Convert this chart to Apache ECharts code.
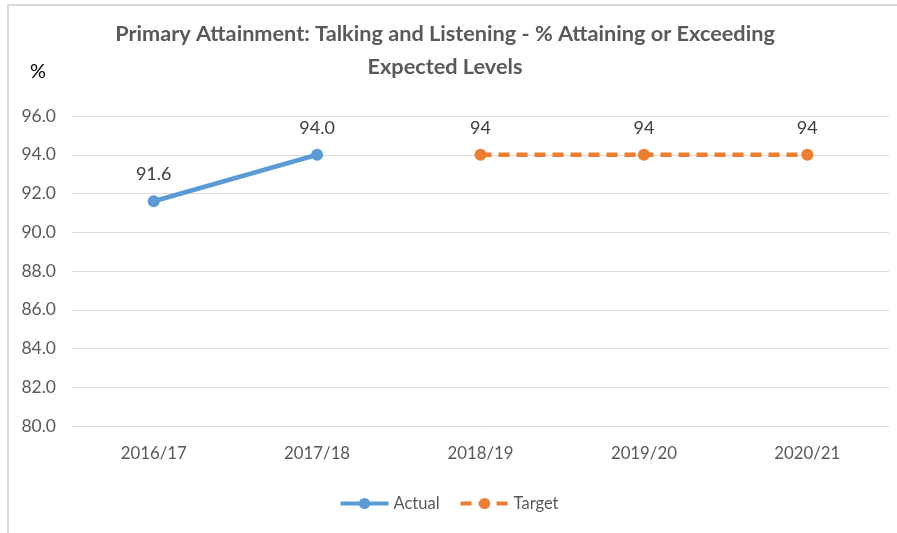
<!DOCTYPE html>
<html>
<head>
<meta charset="utf-8">
<script src="https://cdn.jsdelivr.net/npm/echarts@6/dist/echarts.min.js"></script>
<style>
html,body{margin:0;padding:0;background:#fff;}
#chart{width:897px;height:533px;}
</style>
</head>
<body>
<div id="chart"></div>
<script>
const categories = ['2016/17', '2017/18', '2018/19', '2019/20', '2020/21'];
const actualValues = [91.6, 94.0, null, null, null];
const targetValues = [null, null, 94, 94, 94];
const yMin = 80, yMax = 96, yStep = 2;

const FONT = 'Lato, "Open Sans", sans-serif';
const chart = echarts.init(document.getElementById('chart'));
chart.setOption({
  animation: false,
  backgroundColor: '#ffffff',
  textStyle: { fontFamily: FONT },
  title: {
    text: 'Primary Attainment: Talking and Listening - % Attaining or Exceeding\nExpected Levels',
    left: 440, top: 13, textAlign: 'center',
    textStyle: { fontFamily: FONT, fontSize: 21.7, fontWeight: 'bold', color: '#595959', lineHeight: 33 }
  },
  graphic: [
    { type: 'line', shape: { x1: 7, y1: 5, x2: 897, y2: 5 }, style: { stroke: '#d9d9d9', lineWidth: 2 } },
    { type: 'line', shape: { x1: 8, y1: 5, x2: 8, y2: 533 }, style: { stroke: '#d9d9d9', lineWidth: 2 } },
    { type: 'text', left: 30, top: 62, style: { text: '%', font: '20px ' + FONT, fill: '#000000' } }
  ],
  legend: {
    bottom: 16, left: 'center',
    itemWidth: 48, itemHeight: 14, itemGap: 19,
    lineStyle: { width: 4 },
    textStyle: { fontFamily: FONT, fontSize: 16.5, color: '#595959' },
    data: ['Actual', 'Target']
  },
  grid: { left: 72, right: 8, top: 116, bottom: 107, containLabel: false },
  xAxis: {
    type: 'category', data: categories, boundaryGap: true,
    axisLine: { show: false }, axisTick: { show: false },
    axisLabel: { margin: 19, fontFamily: FONT, fontSize: 16.8, color: '#595959' }
  },
  yAxis: {
    type: 'value', min: yMin, max: yMax, interval: yStep,
    axisLine: { show: false }, axisTick: { show: false },
    splitLine: { lineStyle: { color: '#d9d9d9', width: 1 } },
    axisLabel: { margin: 16, fontFamily: FONT, fontSize: 17.5, color: '#595959',
      formatter: v => v.toFixed(1) }
  },
  series: [
    {
      name: 'Actual', type: 'line', data: actualValues,
      symbol: 'circle', symbolSize: 12, connectNulls: false,
      itemStyle: { color: '#5B9BD5' },
      lineStyle: { color: '#5B9BD5', width: 4.5 },
      label: { show: true, position: 'top', distance: 12, fontFamily: FONT, fontSize: 18, color: '#404040',
        formatter: p => p.value == null ? '' : Number(p.value).toFixed(1) }
    },
    {
      name: 'Target', type: 'line', data: targetValues,
      symbol: 'circle', symbolSize: 12,
      itemStyle: { color: '#ED7D31' },
      lineStyle: { color: '#ED7D31', width: 4.5, type: [11, 7] },
      label: { show: true, position: 'top', distance: 12, fontFamily: FONT, fontSize: 18, color: '#404040',
        formatter: p => p.value == null ? '' : String(p.value) }
    }
  ]
});
</script>
</body>
</html>
